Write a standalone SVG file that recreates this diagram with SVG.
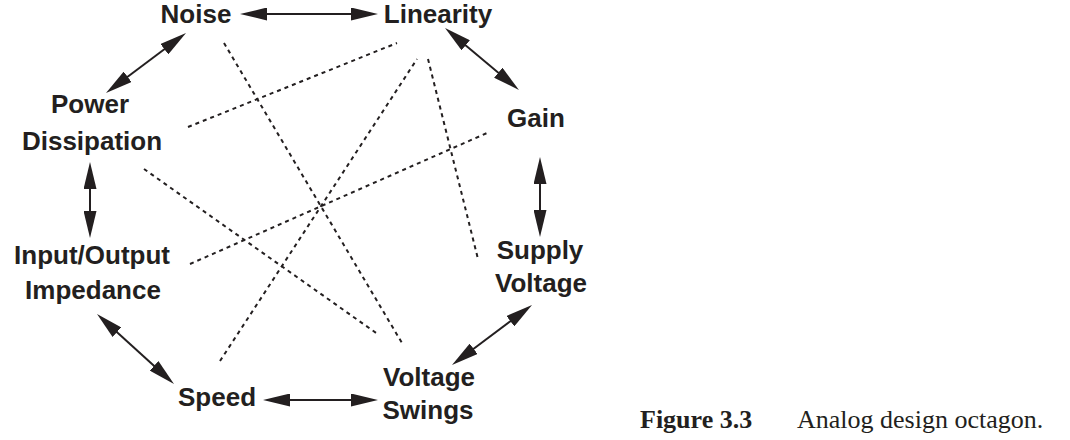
<svg xmlns="http://www.w3.org/2000/svg" width="1070" height="440" viewBox="0 0 1070 440">
<style>
.lbl{font-family:"Liberation Sans",Arial,sans-serif;font-weight:bold;font-size:26px;fill:#231f20;text-anchor:middle}
.arr{stroke:#231f20;stroke-width:2;fill:none;marker-start:url(#ah);marker-end:url(#ah)}
.dot{stroke:#231f20;stroke-width:2;fill:none;stroke-dasharray:4 4}
.cap{font-family:"Liberation Serif","Times New Roman",serif;font-size:26px;fill:#231f20}
</style>
<defs>
<marker id="ah" viewBox="0 0 27 13" refX="17" refY="6.5" markerWidth="27" markerHeight="13" markerUnits="userSpaceOnUse" orient="auto-start-reverse">
<path d="M0,0 L27,6.5 L0,13 z" fill="#231f20"/>
</marker>
</defs>
<rect width="1070" height="440" fill="#ffffff"/>
<g id="connectors">
<line class="arr" x1="250" y1="14" x2="368" y2="14"/>
<line class="arr" x1="178" y1="39" x2="114" y2="87"/>
<line class="arr" x1="452.7" y1="34.4" x2="511.3" y2="83.6"/>
<line class="arr" x1="90" y1="172" x2="90" y2="228"/>
<line class="arr" x1="540" y1="167" x2="540" y2="227"/>
<line class="arr" x1="104.4" y1="320.7" x2="166.6" y2="377.3"/>
<line class="arr" x1="273" y1="400" x2="368" y2="400"/>
<line class="arr" x1="524" y1="311" x2="460" y2="359"/>
<line class="dot" x1="188" y1="127" x2="397" y2="43"/>
<line class="dot" x1="224" y1="43" x2="402" y2="343"/>
<line class="dot" x1="144" y1="169" x2="379" y2="335"/>
<line class="dot" x1="190" y1="264" x2="487" y2="133"/>
<line class="dot" x1="220" y1="361" x2="417" y2="59"/>
<line class="dot" x1="428" y1="59" x2="478" y2="259"/>
</g>
<g id="noise"><text class="lbl" x="196" y="23">Noise</text></g>
<g id="linearity"><text class="lbl" x="438" y="23">Linearity</text></g>
<g id="gain"><text class="lbl" x="536" y="127">Gain</text></g>
<g id="supply-voltage"><text class="lbl" x="540" y="259">Supply</text><text class="lbl" x="541" y="292">Voltage</text></g>
<g id="voltage-swings"><text class="lbl" x="429" y="386">Voltage</text><text class="lbl" x="428" y="419">Swings</text></g>
<g id="speed"><text class="lbl" x="217" y="406">Speed</text></g>
<g id="io-impedance"><text class="lbl" x="92" y="264">Input/Output</text><text class="lbl" x="93" y="299">Impedance</text></g>
<g id="power-dissipation"><text class="lbl" x="90" y="113">Power</text><text class="lbl" x="92" y="150">Dissipation</text></g>
<g id="caption"><text class="cap" x="640" y="428" font-weight="bold">Figure 3.3</text><text class="cap" x="797" y="428">Analog design octagon.</text></g>
</svg>
